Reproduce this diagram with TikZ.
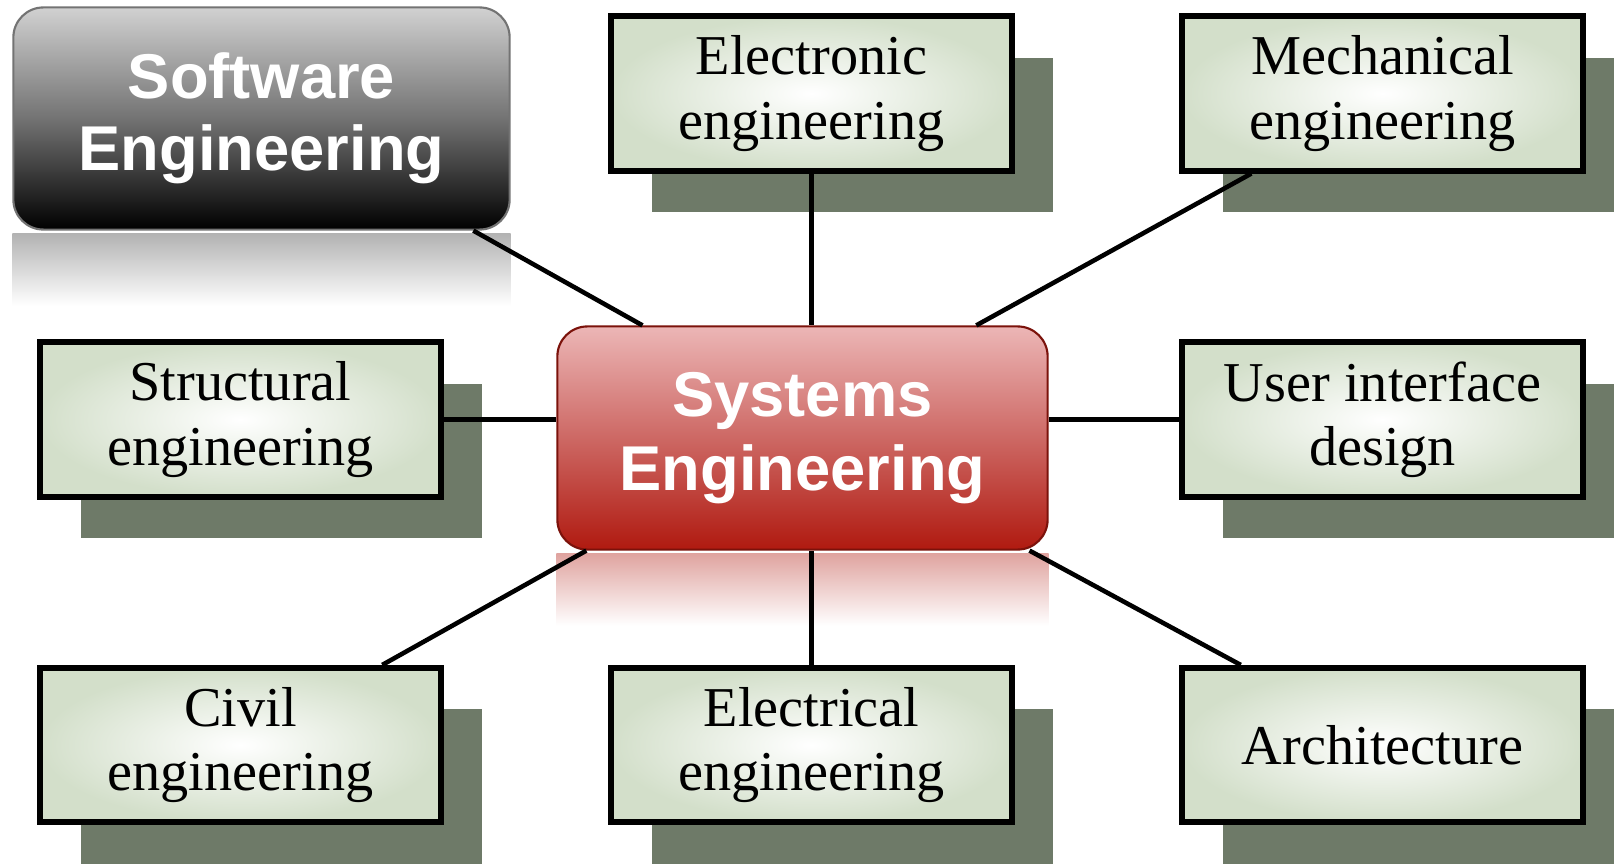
\documentclass[tikz,border=0pt]{standalone}
\usepackage{fontspec}
\setmainfont{Liberation Serif}
\newfontfamily\headfont{Liberation Sans}
\usetikzlibrary{calc,shadows}
\definecolor{boxgreen}{RGB}{211,223,202}
\definecolor{shadowgreen}{RGB}{110,122,104}
\definecolor{sysred}{RGB}{176,26,16}
\definecolor{sysmid}{RGB}{205,104,100}
\definecolor{syspink}{RGB}{236,182,182}

\begin{document}
\begin{tikzpicture}[x=0.01cm, y=-0.01cm,
    eng/.style={draw, line width=1.7pt, inner color=white, outer color=boxgreen,
                minimum width=4.01cm, minimum height=1.54cm, align=center,
                font=\fontsize{16}{18.3}\selectfont,
                drop shadow={shadow xshift=0.41cm, shadow yshift=-0.415cm,
                             fill=shadowgreen, opacity=1}},
    gloss/.style={rounded corners=0.3cm, align=center, text=white, line width=0.6pt,
                  font=\headfont\bfseries\fontsize{18}{#1}\selectfont},
    link/.style={line width=1.3pt}]

  \useasboundingbox (0,0) rectangle (1614,867);
  \clip (0,0) rectangle (1614,867);

  %% ── glossy headline boxes ───────────────────────────────────
  \node[gloss=20.5pt, minimum width=4.96cm, minimum height=2.22cm, draw=black!55,
        top color=black!18, bottom color=black, middle color=black!55]
        (soft) at (261.5,118.5) {Software\\Engineering};
  \node[gloss=21pt, minimum width=4.90cm, minimum height=2.23cm, draw=sysred!70!black,
        top color=syspink, bottom color=sysred, middle color=sysmid]
        (sys) at (802.5,438) {Systems\\Engineering};

  %% ── discipline boxes ────────────────────────────────────────
  \node[eng] (elo)    at (811.5,93.5)   {Electronic\\engineering};
  \node[eng] (mech)   at (1382.5,93.5)  {Mechanical\\engineering};
  \node[eng] (struct) at (240.5,419.5)  {Structural\\engineering};
  \node[eng] (ui)     at (1382.5,419.5) {User interface\\design};
  \node[eng] (civil)  at (240.5,745)    {Civil\\engineering};
  \node[eng] (elec)   at (811.5,745)    {Electrical\\engineering};
  \node[eng] (arch)   at (1382.5,745)   {Architecture};

  %% ── reflections under the glossy boxes ──────────────────────
  \shade[top color=black!30, bottom color=white]
        ($(soft.south west)+(0,3)$) rectangle ($(soft.south east)+(0,75)$);
  \shade[top color=sysred!40!white, bottom color=white]
        ($(sys.south west)+(0,3)$) rectangle ($(sys.south east)+(0,75)$);

  %% ── connectors ──────────────────────────────────────────────
  \draw[link] ($(soft.south west)!0.925!(soft.south east)$) -- ($(sys.north west)!0.175!(sys.north east)$);
  \draw[link] (elo.south) -- (elo.south |- sys.north);
  \draw[link] ($(mech.south west)!0.178!(mech.south east)$) -- ($(sys.north west)!0.853!(sys.north east)$);
  \draw[link] (struct.east) -- (struct.east -| sys.west);
  \draw[link] (ui.west) -- (ui.west -| sys.east);
  \draw[link] ($(civil.north west)!0.848!(civil.north east)$) -- ($(sys.south west)!0.061!(sys.south east)$);
  \draw[link] (elec.north) -- (elec.north |- sys.south);
  \draw[link] ($(arch.north west)!0.152!(arch.north east)$) -- ($(sys.south west)!0.961!(sys.south east)$);

\end{tikzpicture}
\end{document}
